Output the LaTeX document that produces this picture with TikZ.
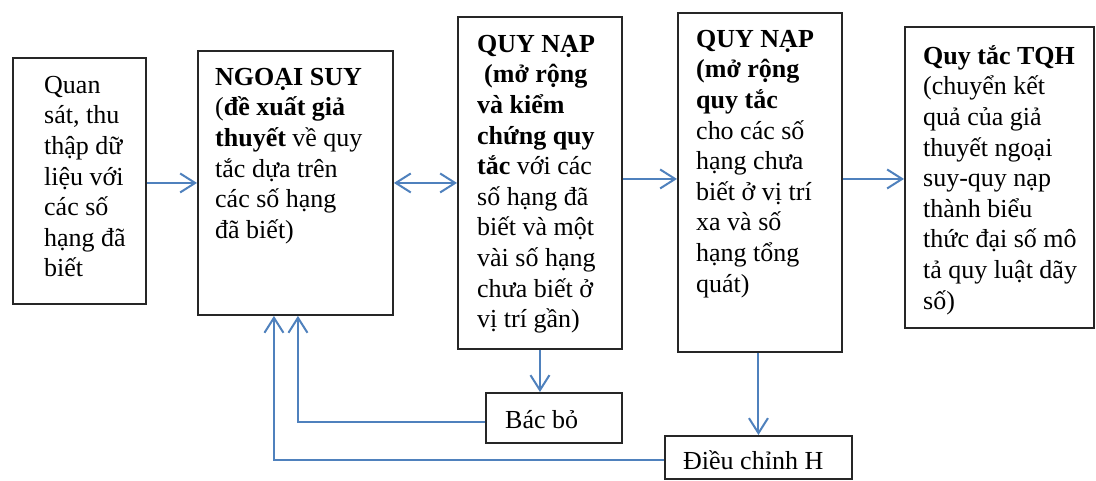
\documentclass[tikz,border=0pt]{standalone}
\usepackage{fontspec}
\setmainfont{Liberation Serif}
\usetikzlibrary{arrows.meta,calc}
\definecolor{arrblue}{RGB}{79,129,189}
\tikzset{
  myb/.tip={Straight Barb[length=15pt,width=19pt]},
}
\begin{document}
\begin{tikzpicture}[x=1pt,y=-1pt,
  box/.style={draw=black!85,line width=1.9pt,rectangle,inner sep=0pt,anchor=north west},
  txt/.style={anchor=north west,inner sep=0pt,align=left,font=\fontsize{26}{30.6}\selectfont},
  arr/.style={draw=arrblue,line width=2pt,-myb},
  darr/.style={draw=arrblue,line width=2pt,myb-myb}]
\fill[white] (0,0) rectangle (1096,480);
\useasboundingbox (0,0) rectangle (1096,480);
% boxes
\node[box,minimum width=133pt,minimum height=246pt] (b1) at (12,57) {};
\node[box,minimum width=195pt,minimum height=264pt] (b2) at (197,50) {};
\node[box,minimum width=164pt,minimum height=332pt] (b3) at (457,16) {};
\node[box,minimum width=164pt,minimum height=339pt] (b4) at (677,12) {};
\node[box,minimum width=189pt,minimum height=301pt] (b5) at (904,26) {};
\node[box,minimum width=136pt,minimum height=50pt] (bb) at (485,392) {};
\node[box,minimum width=187pt,minimum height=43pt] (dc) at (664,435) {};
% texts
\node[txt] (t1) at (44,67) {\rule{0pt}{26pt}Quan\\sát, thu\\thập dữ\\liệu với\\các số\\hạng đã\\biết};
\node[txt] (t2) at (215,59) {\rule{0pt}{26pt}\textbf{NGOẠI SUY}\\(\textbf{đề xuất giả}\\\textbf{thuyết} về quy\\tắc dựa trên\\các số hạng\\đã biết)};
\node[txt] (t3) at (477,26) {\rule{0pt}{26pt}\textbf{QUY NẠP}\\\hspace*{7pt}\textbf{(mở rộng}\\\textbf{và kiểm}\\\textbf{chứng quy}\\\textbf{tắc} với các\\số hạng đã\\biết và một\\vài số hạng\\chưa biết ở\\vị trí gần)};
\node[txt] (t4) at (696,21) {\rule{0pt}{26pt}\textbf{QUY NẠP}\\\textbf{(mở rộng}\\\textbf{quy tắc}\\cho các số\\hạng chưa\\biết ở vị trí\\xa và số\\hạng tổng\\quát)};
\node[txt] (t5) at (923,38) {\rule{0pt}{26pt}\textbf{Quy tắc TQH}\\(chuyển kết\\quả của giả\\thuyết ngoại\\suy-quy nạp\\thành biểu\\thức đại số mô\\tả quy luật dãy\\số)};
\node[txt] (tb) at (505,402) {\rule{0pt}{26pt}Bác bỏ};
\node[txt] (td) at (683,443) {\rule{0pt}{26pt}Điều chỉnh H};
% connectors
\draw[arr] (b1.east |- b2.west) -- (b2.west);
\draw[darr] (b2.east) -- (b3.west);
\coordinate (p1) at ([yshift=4pt]b3.east);
\draw[arr] (p1) -- (p1 -| b4.west);
\coordinate (p2) at ([yshift=3.5pt]b4.east);
\draw[arr] (p2) -- (p2 -| b5.west);
\draw[arr] (b3.south) -- (b3.south |- bb.north);
\draw[arr] (dc.north |- b4.south) -- (dc.north);
\coordinate (q1) at ([yshift=-4pt]bb.west);
\coordinate (q2) at ([xshift=2.5pt]b2.south);
\draw[arr] (q1) -| (q2);
\coordinate (r1) at ([yshift=-3pt]dc.west);
\coordinate (r2) at ([xshift=-21.5pt]b2.south);
\draw[arr] (r1) -| (r2);
\end{tikzpicture}
\end{document}
